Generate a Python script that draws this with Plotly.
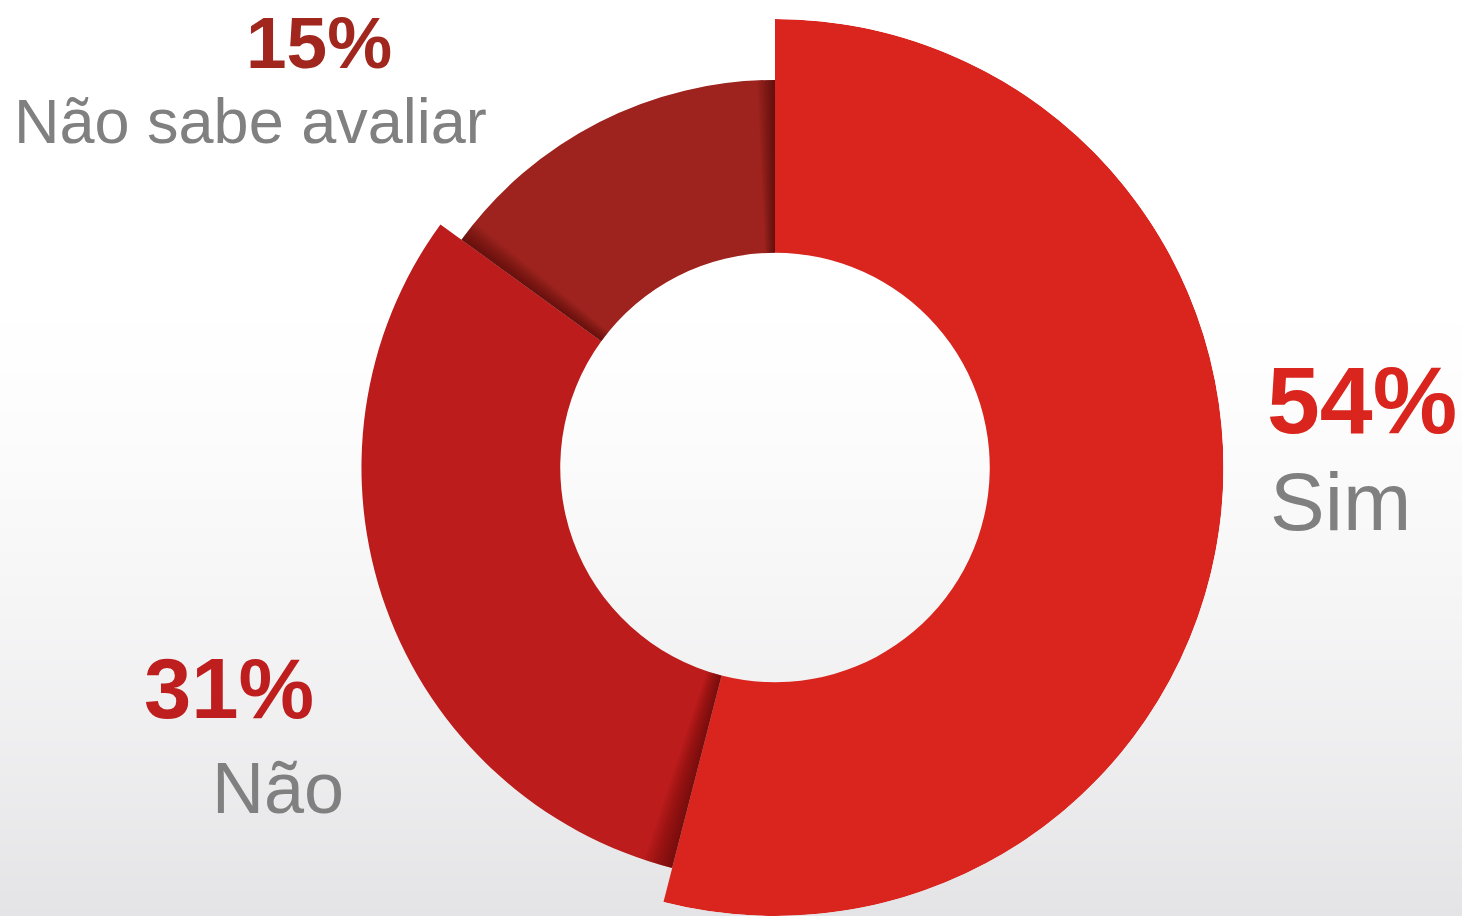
import plotly.graph_objects as go

# Survey answers and their shares (%)
categories = ["Sim", "Não", "Não sabe avaliar"]
values = [54, 31, 15]

# Styling per slice
slice_colors = ["#D9251E", "#BC1C1B", "#9E231E"]
label_colors = ["#D9251D", "#BE1E1E", "#A0261E"]
outer_radius = [449, 414, 388]
inner_radius = 215

W, H = 1462, 916
cx, cy = 775, 468          # ring centre in pixels (from top-left)
R = 449                    # pixel radius of the polar area

fig = go.Figure()

# Angular extent of each slice, clockwise from 12 o'clock
total = sum(values)
starts, widths = [], []
acc = 0.0
for v in values:
    w = 360.0 * v / total
    starts.append(acc)
    widths.append(w)
    acc += w

for i, cat in enumerate(categories):
    fig.add_trace(go.Barpolar(
        theta=[starts[i] + widths[i] / 2],
        width=[widths[i]],
        base=[inner_radius],
        r=[outer_radius[i] - inner_radius],
        marker=dict(color=slice_colors[i], line=dict(width=0)),
        name=cat,
        hoverinfo="skip",
    ))


def shade(edge, outer, direction, span=3.2, steps=10, alpha=0.05):
    """Soft shadow cast onto a slice next to one of its edges."""
    for k in range(1, steps + 1):
        w = span * k / steps
        fig.add_trace(go.Barpolar(
            theta=[edge + direction * w / 2],
            width=[w],
            base=[inner_radius],
            r=[outer - inner_radius],
            marker=dict(color=f"rgba(30,0,0,{alpha})", line=dict(width=0)),
            hoverinfo="skip",
            showlegend=False,
        ))


# Sim casts onto Não, Não casts onto Não sabe avaliar, Sim casts onto Não sabe avaliar
shade(starts[1], outer_radius[1], +1, span=4.0)
shade(starts[2], outer_radius[2], +1, span=3.2)
shade(360.0, outer_radius[2], -1, span=2.6, alpha=0.055)

# Light vertical background gradient
shapes = []
y0 = 280
for y in range(y0, H, 4):
    t = (y + 2 - y0) / (H - y0)
    g = 255 - 27 * t ** 1.5
    col = f"rgb({round(g)},{round(g)},{round(g + 2 * t)})"
    shapes.append(dict(type="rect", xref="paper", yref="paper",
                       x0=0, x1=1, y0=1 - (y + 4) / H, y1=1 - y / H,
                       fillcolor=col, line=dict(width=0), layer="below"))


def ann(text, x, baseline, size, color, bold=False):
    fig.add_annotation(
        text=f"<b>{text}</b>" if bold else text,
        xref="paper", yref="paper",
        x=x / W, y=1 - (baseline - 0.35 * size) / H,
        xanchor="left", yanchor="middle", showarrow=False,
        font=dict(family="Liberation Sans, Arial, sans-serif", size=size, color=color),
    )


gray = "#808080"
ann(f"{values[0]}%", 1265, 433, 95, label_colors[0], bold=True)
ann(categories[0], 1268, 530, 82, gray)
ann(f"{values[2]}%", 244, 68, 73, label_colors[2], bold=True)
ann(categories[2], 12, 143, 63, gray)
ann(f"{values[1]}%", 142, 718, 85, label_colors[1], bold=True)
ann(categories[1], 210, 813, 72, gray)

fig.update_layout(
    width=W, height=H,
    margin=dict(l=0, r=0, t=0, b=0),
    paper_bgcolor="white",
    plot_bgcolor="rgba(0,0,0,0)",
    showlegend=False,
    shapes=shapes,
    barmode="overlay",
    polar=dict(
        domain=dict(x=[(cx - R) / W, (cx + R) / W],
                    y=[max(0.0, (H - cy - R) / H), (H - cy + R) / H]),
        bgcolor="rgba(0,0,0,0)",
        radialaxis=dict(visible=False, range=[0, R]),
        angularaxis=dict(visible=False, direction="clockwise", rotation=90),
        bargap=0,
    ),
)

fig.write_html("out.html")
